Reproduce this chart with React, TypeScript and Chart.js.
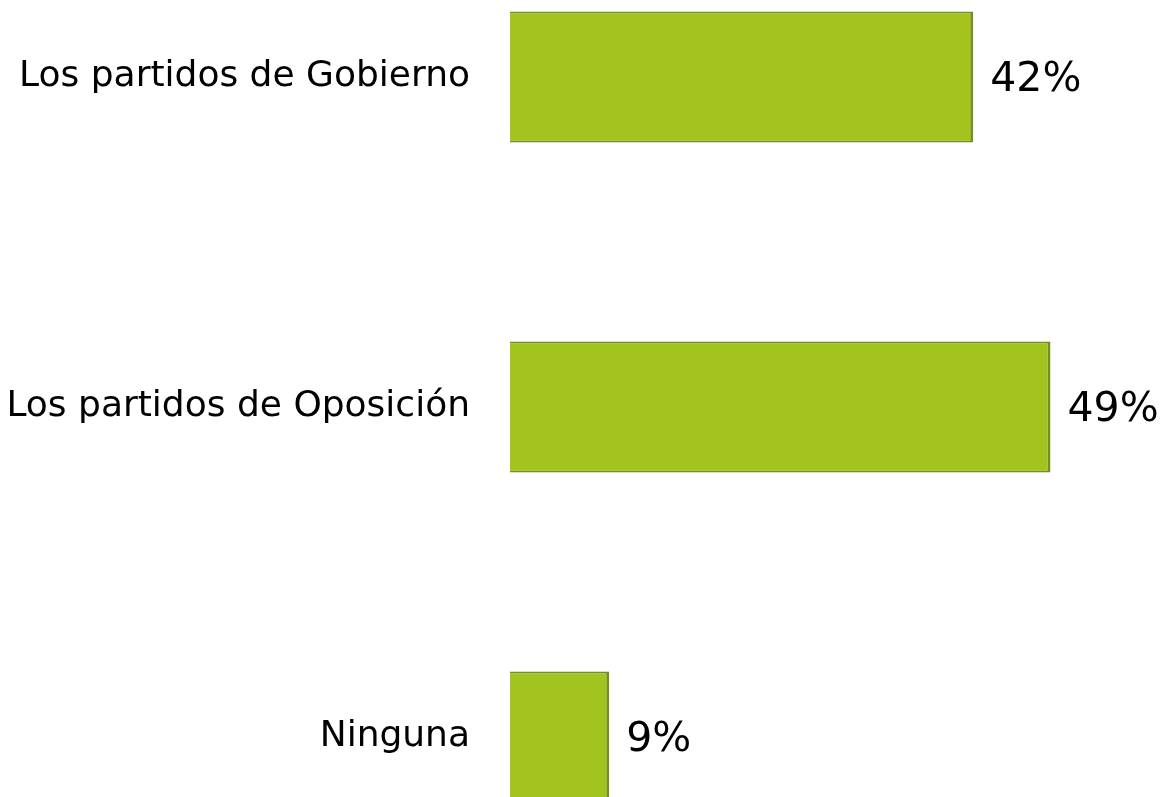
import React, { useEffect, useRef } from "react";
import { Chart, registerables } from "chart.js";

Chart.register(...registerables);

const categories = ["Los partidos de Gobierno", "Los partidos de Oposición", "Ninguna"];
const values = [42, 49, 9];
const valueLabels = ["42%", "49%", "9%"];

const FONT = "'DejaVu Sans', sans-serif";

export default function App() {
  const ref = useRef<HTMLCanvasElement | null>(null);

  useEffect(() => {
    if (!ref.current) return;
    const labelPlugin = {
      id: "valueLabels",
      afterDatasetsDraw(chart: any) {
        const ctx = chart.ctx;
        const meta = chart.getDatasetMeta(0);
        ctx.save();
        ctx.fillStyle = "#000";
        ctx.font = `41px ${FONT}`;
        ctx.textAlign = "left";
        ctx.textBaseline = "middle";
        meta.data.forEach((bar: any, i: number) => {
          ctx.fillText(valueLabels[i], bar.x + 17, bar.y + 3);
        });
        ctx.restore();
      },
    };
    const chart = new Chart(ref.current, {
      type: "bar",
      data: {
        labels: categories,
        datasets: [
          {
            data: values,
            backgroundColor: "#A3C31E",
            borderColor: "#72901C",
            borderWidth: { top: 2, right: 3, bottom: 2, left: 0 },
            borderSkipped: false,
            categoryPercentage: 0.397,
            barPercentage: 1,
          },
        ],
      },
      options: {
        indexAxis: "y",
        responsive: false,
        animation: false,
        layout: { padding: { left: 0, right: 101.5, top: 0, bottom: 0 } },
        plugins: { legend: { display: false }, tooltip: { enabled: false } },
        scales: {
          x: { display: false, min: 0, max: 50 },
          y: {
            grid: { display: false, drawTicks: false },
            border: { display: false },
            ticks: {
              color: "#000",
              font: { family: FONT, size: 36 },
              padding: 40,
            },
            afterFit(scale: any) {
              scale.width = 510;
              scale.paddingTop = 0;
              scale.paddingBottom = 0;
            },
          },
        },
      },
      plugins: [labelPlugin],
    });
    return () => chart.destroy();
  }, []);

  return (
    <div style={{ position: "fixed", left: 0, top: -88, width: 1163, height: 990 }}>
      <canvas ref={ref} width={1163} height={990} style={{ display: "block", width: 1163, height: 990 }} />
    </div>
  );
}
